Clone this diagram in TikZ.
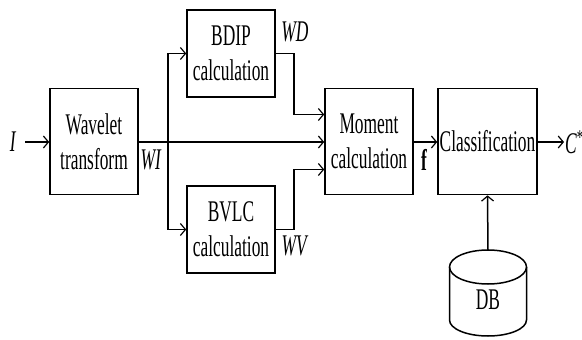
\documentclass[tikz,border=0pt]{standalone}
\usepackage{fontspec}
\usepackage{graphicx}
\setmainfont{Liberation Serif}
\usetikzlibrary{arrows.meta}
% condensed text, as in the block labels
\newcommand\sq[1]{\scalebox{0.58}[1]{#1}}
\tikzset{
  x=1pt, y=-1pt,
  blk/.style={draw, line width=1.6pt, minimum width=88pt, minimum height=87pt,
    align=center, inner sep=0pt, font=\fontsize{30}{35}\selectfont},
  lbl/.style={inner sep=1pt, font=\fontsize{30}{35}\selectfont},
  arr/.style={line width=1.5pt, -{Straight Barb[length=5pt,width=12pt,line width=1.2pt]}},
  ln/.style={line width=1.5pt},
}
\begin{document}
\begin{tikzpicture}
\useasboundingbox (0,0) rectangle (582,340);

% processing blocks
\node[blk, minimum height=106pt] (wt) at (94,141.5) {\sq{Wavelet}\\\sq{transform}};
\node[blk] (bdip) at (231,53.5) {\sq{BDIP}\\\sq{calculation}};
\node[blk] (bvlc) at (231,229.5) {\sq{BVLC}\\\sq{calculation}};
\node[blk, minimum height=106pt] (mc) at (369,141.5) {\sq{Moment}\\\sq{calculation}};
\node[blk, minimum width=99pt, minimum height=106pt] (cls) at (487.5,141.5) {\sq{Classification}};

% database cylinder
\draw[ln] (449.5,267) -- (449.5,320) arc[start angle=180, end angle=0, x radius=38.5, y radius=16] -- (526.5,267);
\draw[ln] (488,267) ellipse[x radius=38.5, y radius=17];
\node[lbl] (db) at (488,300) {\sq{DB}};
\coordinate (dbtop) at (488,250);

% signal labels
\node[lbl] (in) at (13,142) {\sq{\textit{I}}};
\node[lbl] (wi) at (151,160) {\sq{\textit{WI}}};
\node[lbl] (wd) at (295,32) {\sq{\textit{WD}}};
\node[lbl] (wv) at (295,246) {\sq{\textit{WV}}};
\node[lbl] (f) at (424,160) {\sq{\textbf{f}}};
\node[lbl, anchor=west] (cs) at (564,142) {\sq{\textit{C}\textsuperscript{*}}};

% connectors
\coordinate (br) at (168,142);
\draw[arr] ([xshift=8pt]in.east) -- (wt.west |- in);
\draw[arr] (wt.east |- br) -- (mc.west |- br);
\draw[arr] (br) |- (bdip.west);
\draw[arr] (br) |- (bvlc.west);
\draw[arr] (bdip.east) -- ++(18,0) |- ([yshift=27pt]mc.west);
\draw[arr] (bvlc.east) -- ++(18,0) |- ([yshift=-28pt]mc.west);
\draw[arr] (mc.east |- br) -- (cls.west |- br);
\draw[arr] (cls.east |- br) -- (cs.west);
\draw[arr] (dbtop) -- (cls.south);
\end{tikzpicture}
\end{document}
